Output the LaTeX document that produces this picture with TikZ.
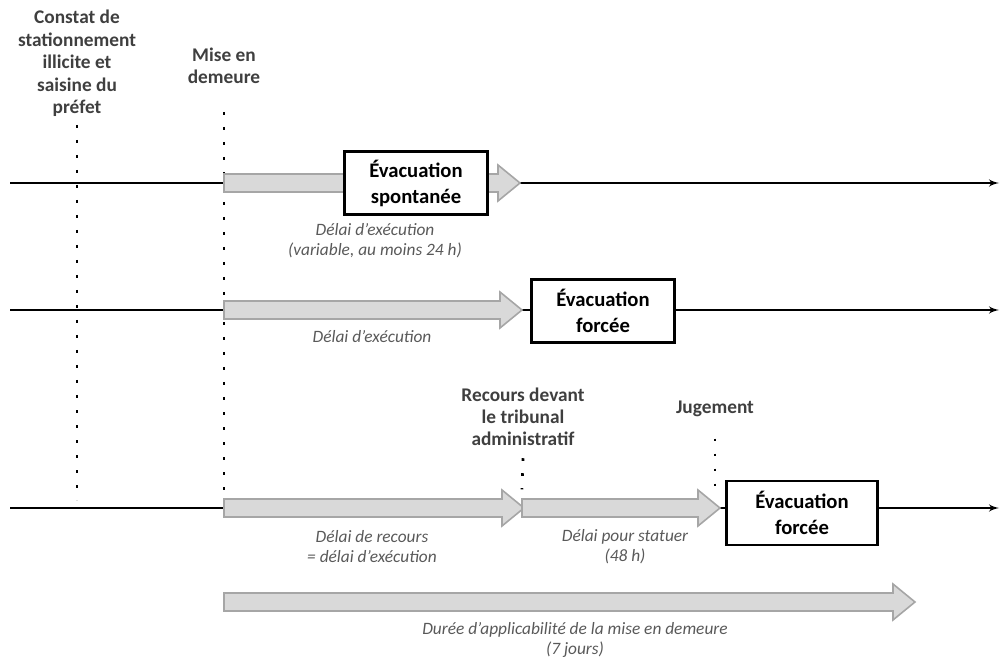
\documentclass[tikz,border=0pt]{standalone}
\usepackage{fontspec}
\setmainfont{Carlito}
\usepackage{tikz}
\usetikzlibrary{shapes,arrows,calc,positioning}
\definecolor{bargray}{HTML}{D9D9D9}
\definecolor{barline}{HTML}{A6A6A6}
\definecolor{labgray}{HTML}{595959}
\definecolor{evgray}{HTML}{3F3F3F}
\tikzstyle{timeline} = [draw, line width=1.6pt, -latex']
\tikzstyle{marker} = [draw, line width=2pt, dash pattern=on 2pt off 9.25pt]
\tikzstyle{garrowline} = [draw=barline, fill=bargray, line width=1.2pt]
\tikzstyle{blockEV} = [rectangle, draw, line width=2pt, fill=white, align=center, font=\fontsize{15.5}{19.5}\selectfont\bfseries, minimum width=107pt, minimum height=47pt, inner sep=0pt]
\tikzstyle{eventTX} = [align=center, text=evgray, font=\fontsize{14.5}{16.5}\selectfont\bfseries, inner sep=0pt]
\tikzstyle{delayTX} = [align=center, text=labgray, font=\fontsize{13}{15}\selectfont\itshape, inner sep=0pt]
% fleche grise epaisse entre deux points de la ligne
\newcommand{\garrow}[2]{%
  \path[garrowline] let \p1=(#1), \p2=(#2) in
    (\x1,\y1+6.75pt) -- (\x2-16.5pt,\y1+6.75pt) -- (\x2-16.5pt,\y1+13.5pt)
    -- (\x2,\y1) -- (\x2-16.5pt,\y1-13.5pt) -- (\x2-16.5pt,\y1-6.75pt)
    -- (\x1,\y1-6.75pt) -- cycle;}

\begin{document}
\begin{tikzpicture}[x=0.75pt, y=-0.75pt]
  \useasboundingbox (0,0) rectangle (1000,659);

    % reperes
    \coordinate (deb1) at (10,183);  \coordinate (fin1) at (999,183);
    \coordinate (deb2) at (10,310);  \coordinate (fin2) at (999,310);
    \coordinate (deb3) at (10,508);  \coordinate (fin3) at (999,508);
    \coordinate (mise1) at (224,183); \coordinate (spont1) at (520,183);
    \coordinate (mise2) at (224,310); \coordinate (forc2) at (522,310);
    \coordinate (mise3) at (224,508); \coordinate (recours3) at (524,508);
    \coordinate (recoursB) at (522,508); \coordinate (jug3) at (720,508);
    \coordinate (mise4) at (224,602); \coordinate (fin4) at (915,602);
    \coordinate (constathaut) at (77,125); \coordinate (constatbas) at (77,500);
    \coordinate (misehaut) at (224,112); \coordinate (misebas) at (224,505);

    % nodes
    \node [eventTX, anchor=north, font=\fontsize{14.5}{16.9}\selectfont\bfseries] (constat) at (77,10) {Constat de\\stationnement\\illicite et\\saisine du\\préfet};
    \node [eventTX, anchor=north] (mise) at (224,48) {Mise en\\demeure};
    \node [eventTX, anchor=north] (recours) at (523,388) {Recours devant\\le tribunal\\administratif};
    \node [eventTX] (jugement) at (715,409) {Jugement};

    % pointilles
    \path [marker] (constathaut) -- (constatbas);
    \path [marker] (misehaut) -- (misebas);
    \path [marker] ([yshift=-9pt]recours.south) -- ([yshift=14pt]recoursB);
    \path [marker] ([yshift=-16pt]jugement.south) -- ([xshift=-3.75pt,yshift=14pt]jug3);

    % lignes du temps
    \path [timeline] (deb1) -- (fin1);
    \path [timeline] (deb2) -- (fin2);
    \path [timeline] (deb3) -- (fin3);

    % fleches grises
    \garrow{mise1}{spont1}
    \garrow{mise2}{forc2}
    \garrow{mise3}{recours3}
    \garrow{recoursB}{jug3}
    \garrow{mise4}{fin4}

    \node [blockEV] (evspont) at (416,183) {Évacuation\\spontanée};
    \node [blockEV] (evforc1) at (603,311) {Évacuation\\forcée};
    \node [blockEV, minimum width=113pt, minimum height=48pt] (evforc2) at (802,513) {Évacuation\\forcée};

    % delais
    \node [delayTX] (delai1) at (375,241) {Délai d’exécution\\(variable, au moins 24 h)};
    \node [delayTX] (delai2) at (372,337) {Délai d’exécution};
    \node [delayTX] (delai3) at (372,547) {Délai de recours\\= délai d’exécution};
    \node [delayTX] (statuer) at (625,547) {Délai pour statuer\\(48 h)};
    \node [delayTX] (duree) at (575,640) {Durée d’applicabilité de la mise en demeure\\(7 jours)};

\end{tikzpicture}
\end{document}
